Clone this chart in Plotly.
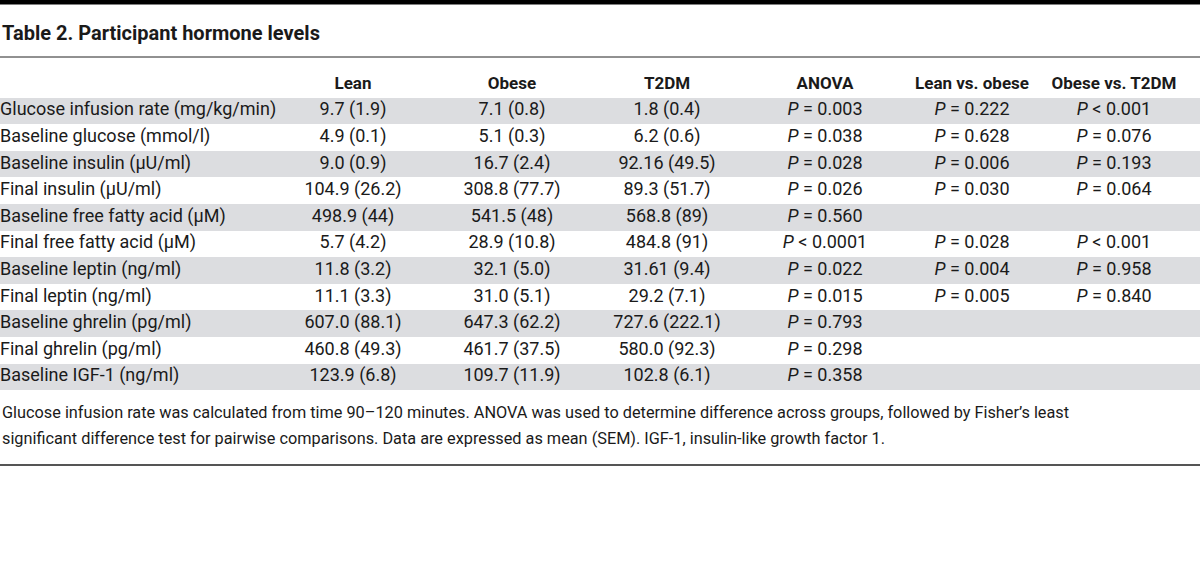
import plotly.graph_objects as go

# ---- data ----
col_headers = ["Lean", "Obese", "T2DM", "ANOVA", "Lean vs. obese", "Obese vs. T2DM"]
measures = [
    "Glucose infusion rate (mg/kg/min)",
    "Baseline glucose (mmol/l)",
    "Baseline insulin (μU/ml)",
    "Final insulin (μU/ml)",
    "Baseline free fatty acid (μM)",
    "Final free fatty acid (μM)",
    "Baseline leptin (ng/ml)",
    "Final leptin (ng/ml)",
    "Baseline ghrelin (pg/ml)",
    "Final ghrelin (pg/ml)",
    "Baseline IGF-1 (ng/ml)",
]
lean = ["9.7 (1.9)", "4.9 (0.1)", "9.0 (0.9)", "104.9 (26.2)", "498.9 (44)", "5.7 (4.2)",
        "11.8 (3.2)", "11.1 (3.3)", "607.0 (88.1)", "460.8 (49.3)", "123.9 (6.8)"]
obese = ["7.1 (0.8)", "5.1 (0.3)", "16.7 (2.4)", "308.8 (77.7)", "541.5 (48)", "28.9 (10.8)",
         "32.1 (5.0)", "31.0 (5.1)", "647.3 (62.2)", "461.7 (37.5)", "109.7 (11.9)"]
t2dm = ["1.8 (0.4)", "6.2 (0.6)", "92.16 (49.5)", "89.3 (51.7)", "568.8 (89)", "484.8 (91)",
        "31.61 (9.4)", "29.2 (7.1)", "727.6 (222.1)", "580.0 (92.3)", "102.8 (6.1)"]
anova = ["= 0.003", "= 0.038", "= 0.028", "= 0.026", "= 0.560", "< 0.0001",
         "= 0.022", "= 0.015", "= 0.793", "= 0.298", "= 0.358"]
lean_vs_obese = ["= 0.222", "= 0.628", "= 0.006", "= 0.030", "", "= 0.028",
                 "= 0.004", "= 0.005", "", "", ""]
obese_vs_t2dm = ["< 0.001", "= 0.076", "= 0.193", "= 0.064", "", "< 0.001",
                 "= 0.958", "= 0.840", "", "", ""]

title_text = "Table 2. Participant hormone levels"
footnote_lines = [
    "Glucose infusion rate was calculated from time 90–120 minutes. ANOVA was used to determine difference across groups, followed by Fisher’s least",
    "significant difference test for pairwise comparisons. Data are expressed as mean (SEM). IGF-1, insulin-like growth factor 1.",
]

# ---- layout settings ----
W, H = 1200, 561
FONT = "Roboto"
TXT = "#1a1a1a"
SHADE = "#dcdde0"
COL_X = [0, 353, 512, 667, 825, 972, 1114]   # column anchor positions on a 0..W pixel-like axis
BODY_SIZE = 18
HEAD_SIZE = 17
TOP_PX, BOTTOM_PX = 71.1, 390.3             # header top .. last row bottom


def py(px):
    return 1 - px / H


def pfmt(v):
    if not v:
        return ""
    return "<i>P</i> " + v.replace("<", "&lt;")


HEADER_KEY = "__header__"
cats = [HEADER_KEY] + measures
value_cols = [lean, obese, t2dm,
              [pfmt(v) for v in anova],
              [pfmt(v) for v in lean_vs_obese],
              [pfmt(v) for v in obese_vs_t2dm]]

fig = go.Figure()

# zebra shading (full-width bars on a 0..1 axis)
shaded = measures[0::2]
fig.add_trace(go.Bar(
    y=shaded, x=[1] * len(shaded), orientation="h", width=1,
    marker=dict(color=SHADE, line=dict(width=0)),
    xaxis="x", yaxis="y", hoverinfo="skip", showlegend=False,
))

# first column (row labels)
fig.add_trace(go.Scatter(
    x=[COL_X[0]] * len(measures), y=measures, text=measures,
    mode="text", textposition="middle right",
    textfont=dict(family=FONT, size=BODY_SIZE, color=TXT),
    xaxis="x2", yaxis="y", hoverinfo="skip", showlegend=False, cliponaxis=False,
))

# value columns with bold header
for j, (hdr, vals) in enumerate(zip(col_headers, value_cols), start=1):
    fig.add_trace(go.Scatter(
        x=[COL_X[j]] * len(cats), y=cats,
        text=[f"<b>{hdr}</b>"] + list(vals),
        mode="text", textposition="middle center",
        textfont=dict(family=FONT, size=[HEAD_SIZE] + [BODY_SIZE] * len(vals), color=TXT),
        xaxis="x2", yaxis="y", hoverinfo="skip", showlegend=False, cliponaxis=False,
    ))

shapes = [
    dict(type="rect", xref="paper", yref="paper", x0=0, x1=1, y0=py(4.5), y1=1,
         fillcolor="#000000", line=dict(width=0), layer="above"),
    dict(type="line", xref="paper", yref="paper", x0=0, x1=1, y0=py(57), y1=py(57),
         line=dict(color="#222222", width=1)),
    dict(type="line", xref="paper", yref="paper", x0=0, x1=1, y0=py(465), y1=py(465),
         line=dict(color="#555555", width=2)),
]

annotations = [
    dict(text=f"<b>{title_text}</b>", xref="paper", yref="paper", x=0, y=py(33),
         xanchor="left", yanchor="middle", showarrow=False,
         font=dict(family=FONT, size=20, color=TXT)),
]
for i, line in enumerate(footnote_lines):
    annotations.append(dict(text=line, xref="paper", yref="paper", x=0, y=py(412 + 26.5 * i),
                            xanchor="left", yanchor="middle", showarrow=False,
                            font=dict(family=FONT, size=16.3, color=TXT)))

fig.update_layout(
    width=W, height=H,
    margin=dict(l=0, r=0, t=0, b=0),
    paper_bgcolor="white", plot_bgcolor="white",
    xaxis=dict(range=[0, 1], domain=[0, 1], visible=False, fixedrange=True),
    xaxis2=dict(range=[0, W], overlaying="x", visible=False, fixedrange=True),
    yaxis=dict(type="category", categoryorder="array", categoryarray=cats,
               range=[len(cats) - 0.5, -0.5], domain=[py(BOTTOM_PX), py(TOP_PX)],
               visible=False, fixedrange=True),
    bargap=0,
    hovermode=False,
    shapes=shapes, annotations=annotations,
)

fig.write_html("out.html", config={"displayModeBar": False},
               post_script="document.body.style.margin='0';")
